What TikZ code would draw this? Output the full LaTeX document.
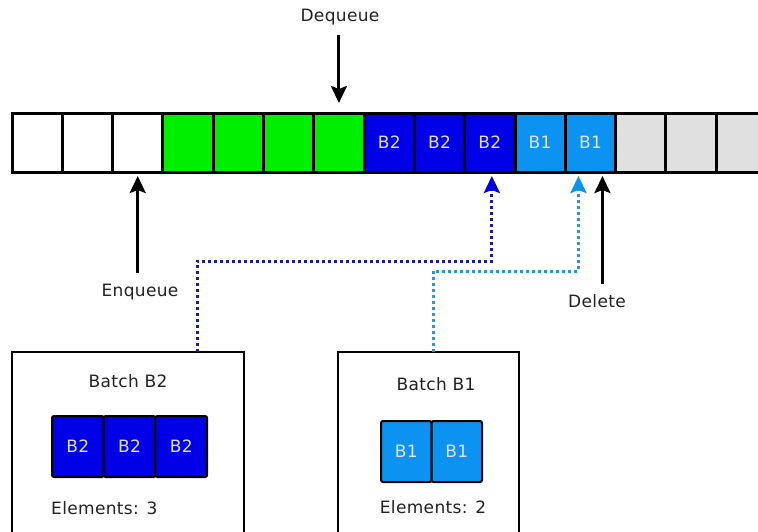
\documentclass[tikz,border=0pt]{standalone}
\usepackage{fontspec}
\setmainfont[LetterSpace=2]{DejaVu Sans}
\usetikzlibrary{arrows.meta}
\definecolor{cgreen}{RGB}{0,238,0}
\definecolor{cblue}{RGB}{0,0,230}
\definecolor{clight}{RGB}{12,146,240}
\definecolor{cgray}{RGB}{224,224,224}
\definecolor{ctext}{RGB}{34,34,34}
\definecolor{ccell}{RGB}{225,225,240}
\definecolor{dotdark}{RGB}{25,25,175}
\definecolor{dotlight}{RGB}{40,150,225}
\begin{document}
\begin{tikzpicture}[x=1pt,y=-1pt,
  font=\fontsize{17}{20}\selectfont,
  cell/.style={draw=black, line width=3pt, minimum width=50.3pt, minimum height=59pt,
    inner sep=0pt, outer sep=0pt, text=ccell},
  icell/.style={draw=black, line width=2pt, rounded corners=2pt, minimum height=61pt,
    inner sep=0pt, outer sep=0pt, text=ccell},
  lbl/.style={text=ctext, inner sep=1pt},
  batchbox/.style={draw=black, line width=2.5pt, fill=white, minimum height=200pt,
    inner sep=0pt, outer sep=0pt},
  arr/.style={-{Stealth[length=17pt,width=16pt,inset=3pt]}, line width=3pt, draw=black},
  dotline/.style={-{Stealth[length=17pt,width=16pt,inset=3pt,color=#1]},
    line width=3pt, dash pattern=on 3pt off 3pt}
]
\useasboundingbox (0,0) rectangle (758,531);
\fill[white] (0,0) rectangle (758,531);

% queue cells
\foreach \i/\col/\lab in {1/white/,2/white/,3/white/,4/cgreen/,5/cgreen/,6/cgreen/,7/cgreen/,
  8/cblue/B2,9/cblue/B2,10/cblue/B2,11/clight/B1,12/clight/B1,13/cgray/,14/cgray/,15/cgray/}
  \node[cell, fill=\col] (c\i) at ({12+50.3*(\i-0.5)},142.5) {\lab};

% labels
\node[lbl] (deq) at (340,17) {Dequeue};
\node[lbl] (enq) at (140,292) {Enqueue};
\node[lbl] (del) at (597,301) {Delete};

% arrows
\draw[arr] ([yshift=-9pt]c7.north |- deq.south) -- ([yshift=10pt]c7.north);
\draw[arr] ([yshift=10pt]c3.south |- enq.north) -- ([yshift=-4pt]c3.south);
\draw[arr] ([xshift=12pt,yshift=9pt]c12.south |- del.north) -- ([xshift=12pt,yshift=-4pt]c12.south);

% batch B2
\node[batchbox, minimum width=232pt] (bB2) at (128,452) {};
\node[lbl] (tB2) at (128,381) {Batch B2};
\foreach \i in {1,2,3}
  \node[icell, fill=cblue, minimum width=51.7pt] (b2c\i) at ({52+51.7*(\i-0.5)},446.5) {B2};
\node[lbl, anchor=west] (eB2) at (50,508) {Elements: 3};

% batch B1
\node[batchbox, minimum width=181pt] (bB1) at (428.5,452) {};
\node[lbl] (tB1) at (436,384) {Batch B1};
\foreach \i in {1,2}
  \node[icell, fill=clight, minimum width=50.5pt] (b1c\i) at ({381+50.5*(\i-0.5)},451.5) {B1};
\node[lbl] (eB1) at (433,507) {Elements: 2};

% dotted connectors
\draw[dotline=cblue, draw=dotdark] ([xshift=69pt]bB2.north) -- ++(0,-91)
  -| ([xshift=2pt,yshift=-4pt]c10.south);
\draw[dotline=clight, draw=dotlight] ([xshift=4.5pt]bB1.north) -- ++(0,-81)
  -| ([xshift=-12pt,yshift=-4pt]c12.south);
\end{tikzpicture}
\end{document}
